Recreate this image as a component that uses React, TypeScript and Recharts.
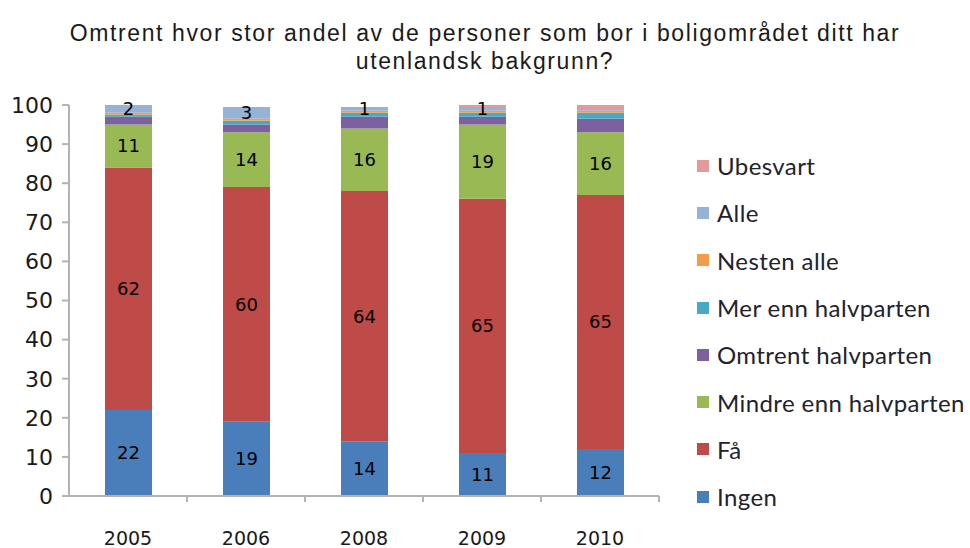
import { Bar, BarChart, LabelList, XAxis, YAxis } from 'recharts';

const years = ['2005', '2006', '2008', '2009', '2010'];
const ingen = [22, 19, 14, 11, 12];
const faa = [62, 60, 64, 65, 65];
const mindre = [11, 14, 16, 19, 16];
const omtrent = [2, 2, 3, 2, 3.5];
const merEnn = [0.5, 1, 1, 1, 1.5];
const nestenAlle = [0.5, 0.5, 0.5, 0.5, 0.5];
const alle = [2, 3, 1, 1, 0.5];
const ubesvart = [0, 0, 0, 0.5, 1];

const yTicks = [0, 10, 20, 30, 40, 50, 60, 70, 80, 90, 100];

const series = [
  { key: 'Ingen', color: '#4a7ebb', label: true },
  { key: 'Få', color: '#be4b48', label: true },
  { key: 'Mindre enn halvparten', color: '#98b954', label: true },
  { key: 'Omtrent halvparten', color: '#7d60a0', label: false },
  { key: 'Mer enn halvparten', color: '#46aac5', label: false },
  { key: 'Nesten alle', color: '#f59c4b', label: false },
  { key: 'Alle', color: '#95b3d7', label: true },
  { key: 'Ubesvart', color: '#e49a9a', label: false },
];

const data = years.map((year, i) => ({
  year,
  Ingen: ingen[i],
  Få: faa[i],
  'Mindre enn halvparten': mindre[i],
  'Omtrent halvparten': omtrent[i],
  'Mer enn halvparten': merEnn[i],
  'Nesten alle': nestenAlle[i],
  Alle: alle[i],
  Ubesvart: ubesvart[i],
}));

const font = '"DejaVu Sans", Verdana, sans-serif';

function YearTick(props: any) {
  const { x, y, payload } = props;
  const half = payload?.offset || 59;
  return (
    <g>
      <line x1={x + half} x2={x + half} y1={y - 8} y2={y - 2} stroke="#b3b3b3" strokeWidth={2} />
      <text x={x} y={y + 41} textAnchor="middle" fontFamily={font} fontSize={19} fill="#1a1a1a">
        {payload.value}
      </text>
    </g>
  );
}

function LegendList() {
  const items = [...series].reverse();
  return (
    <div style={{ fontFamily: 'Lato, sans-serif', fontSize: 24, letterSpacing: 0.4, color: '#22222e' }}>
      {items.map((s) => (
        <div key={s.key} style={{ display: 'flex', alignItems: 'center', height: 47.3 }}>
          <span style={{ width: 12, height: 12, background: s.color, marginRight: 8 }} />
          <span>{s.key}</span>
        </div>
      ))}
    </div>
  );
}

export default function App() {
  return (
    <div style={{ position: 'absolute', left: 0, top: 0, width: 970, height: 548, background: '#fff' }}>
      <div
        style={{
          position: 'absolute',
          top: 19,
          left: 0,
          width: 970,
          textAlign: 'center',
          fontFamily: '"Liberation Sans", Arial, sans-serif',
          fontSize: 23,
          letterSpacing: 1.6,
          lineHeight: '28px',
          color: '#1a1a1a',
        }}
      >
        Omtrent hvor stor andel av de personer som bor i boligområdet ditt har
        <br />
        utenlandsk bakgrunn?
      </div>
      <BarChart
        width={970}
        height={548}
        data={data}
        margin={{ top: 105, right: 311, left: 9, bottom: 22 }}
        style={{ position: 'absolute', left: 0, top: 0 }}
      >
        <XAxis
          dataKey="year"
          height={30}
          axisLine={{ stroke: '#b3b3b3', strokeWidth: 2 }}
          tickLine={false}
          tick={<YearTick />}
          interval={0}
        />
        <YAxis
          width={60}
          domain={[0, 100]}
          ticks={yTicks}
          interval={0}
          axisLine={{ stroke: '#b3b3b3', strokeWidth: 2 }}
          tickLine={{ stroke: '#b3b3b3', strokeWidth: 2 }}
          tickSize={7}
          tickMargin={9}
          tick={{ fontFamily: font, fontSize: 22, fill: '#1a1a1a' }}
        />
        {series.map((s) => (
          <Bar key={s.key} dataKey={s.key} stackId="a" fill={s.color} barSize={47} isAnimationActive={false}>
            {s.label && (
              <LabelList
                dataKey={s.key}
                position="center"
                fontFamily={font}
                fontSize={18}
                fill="#000"
                formatter={(v: any) => (v >= 1 ? v : '')}
              />
            )}
          </Bar>
        ))}
      </BarChart>
      <div style={{ position: 'absolute', left: 697, top: 142, width: 273 }}>
        <LegendList />
      </div>
    </div>
  );
}
